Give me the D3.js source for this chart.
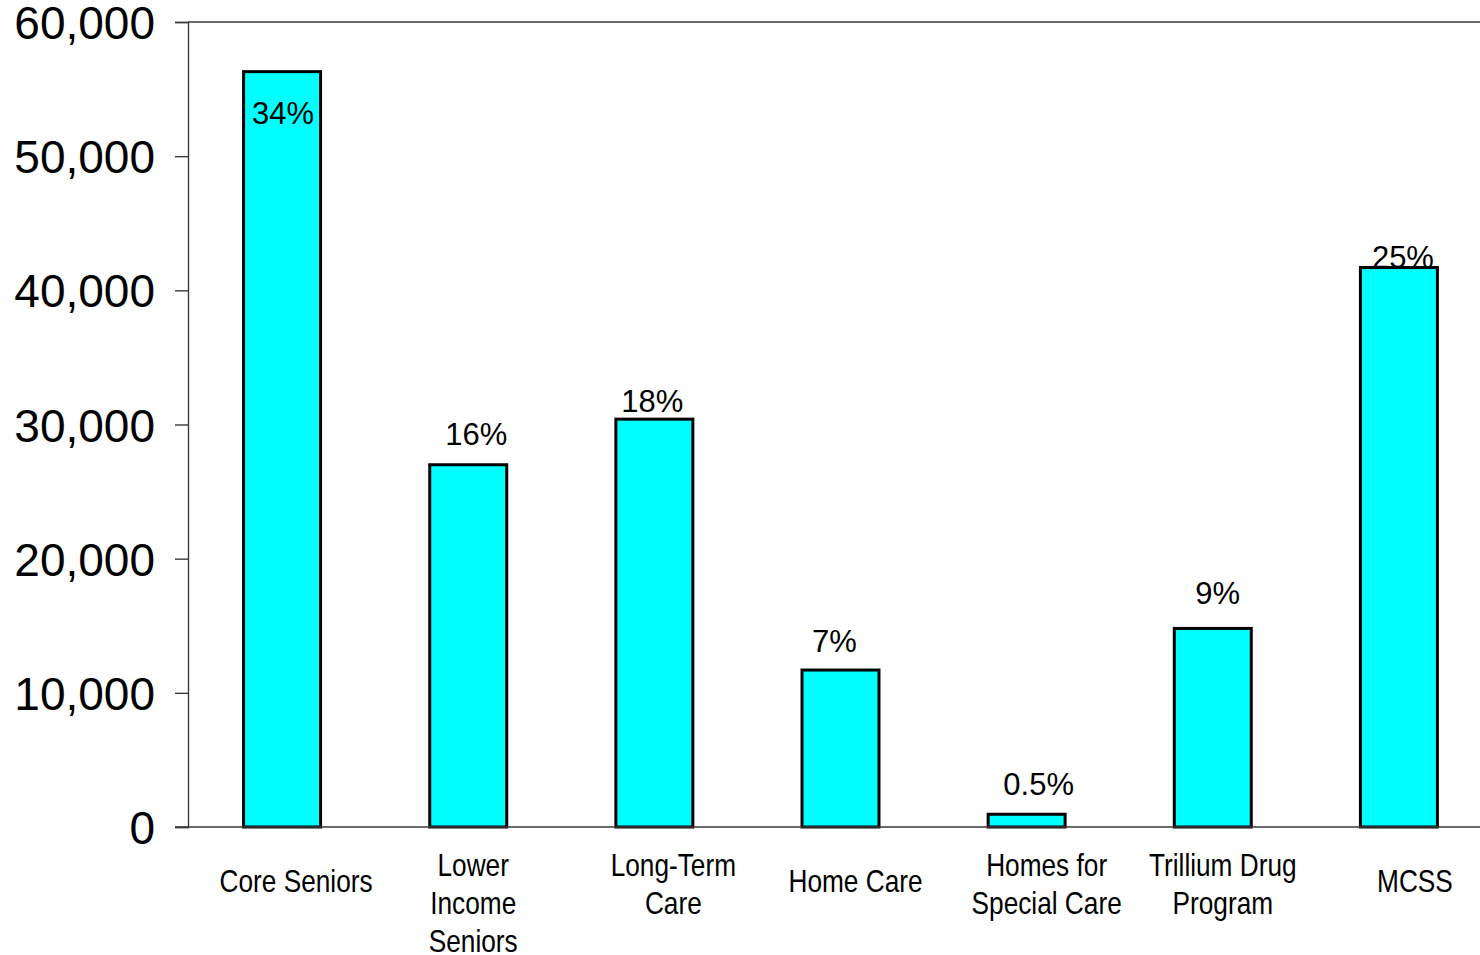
<!DOCTYPE html>
<html>
<head>
<meta charset="utf-8">
<script src="https://cdn.jsdelivr.net/npm/d3@7"></script>
<style>
  html, body { margin: 0; padding: 0; background: #ffffff; }
  svg { display: block; }
</style>
</head>
<body>
<script>
// Spending by program (bars) with each program's share printed above it
const categories = [
  ["Core Seniors"],
  ["Lower", "Income", "Seniors"],
  ["Long-Term", "Care"],
  ["Home Care"],
  ["Homes for", "Special Care"],
  ["Trillium Drug", "Program"],
  ["MCSS"]
];
const values = [56300, 27000, 30400, 11700, 950, 14800, 41700];
const shareLabels = ["34%", "16%", "18%", "7%", "0.5%", "9%", "25%"];
const yTicks = [0, 10000, 20000, 30000, 40000, 50000, 60000];

// Hand-placed nudges for the share labels (px, relative to bar top centre)
const shareDx = [1, 8, -2, -6, 12, 5, 4];
const shareDy = [52, -20, -7, -18, -19, -24, 0];
// Horizontal nudges for the category labels (px, relative to bar centre)
const catDx = [14, 5, 19, 15, 20, 10, 16];

const W = 1480, H = 955;
const plotLeft = 188, plotTop = 22, plotBottom = 827, plotRight = 1492;

const svg = d3.select("body").append("svg")
  .attr("width", W).attr("height", H);

const x = d3.scaleBand()
  .domain(d3.range(categories.length))
  .range([plotLeft + 1, plotRight])
  .paddingInner(0.5865)
  .paddingOuter(0.2933);

const y = d3.scaleLinear().domain([0, 60000]).range([plotBottom, plotTop]);

const axisColor = "#3a3a3a";

// Plot frame: top border runs across the plot width
svg.append("line")
  .attr("x1", plotLeft).attr("x2", W).attr("y1", y(60000)).attr("y2", y(60000))
  .attr("stroke", axisColor).attr("stroke-width", 1.4);

// Y axis
const yAxis = d3.axisLeft(y)
  .tickValues(yTicks)
  .tickSize(13)
  .tickPadding(20)
  .tickFormat(d3.format(","));

const gy = svg.append("g")
  .attr("transform", `translate(${plotLeft},0)`)
  .call(yAxis);
gy.select(".domain").attr("stroke", axisColor).attr("stroke-width", 1.4);
gy.selectAll(".tick line").attr("stroke", axisColor).attr("stroke-width", 1.4);
gy.selectAll(".tick text")
  .attr("font-family", "Arial, 'Liberation Sans', sans-serif")
  .attr("font-size", 46)
  .attr("fill", "#000")
  .attr("dy", "0.36em");

// Bars
svg.append("g").selectAll("rect")
  .data(values)
  .join("rect")
  .attr("x", (d, i) => x(i))
  .attr("y", d => y(d))
  .attr("width", x.bandwidth())
  .attr("height", d => y(0) - y(d))
  .attr("fill", "#00ffff")
  .attr("stroke", "#000")
  .attr("stroke-width", 3);

// Baseline drawn over the bar bottoms
svg.append("line")
  .attr("x1", plotLeft - 13).attr("x2", W).attr("y1", y(0)).attr("y2", y(0))
  .attr("stroke", axisColor).attr("stroke-width", 1.4);

// Share labels
svg.append("g").selectAll("text")
  .data(values)
  .join("text")
  .attr("x", (d, i) => x(i) + x.bandwidth() / 2 + shareDx[i])
  .attr("y", (d, i) => y(d) + shareDy[i])
  .attr("text-anchor", "middle")
  .attr("font-family", "Arial, 'Liberation Sans', sans-serif")
  .attr("font-size", 31)
  .attr("fill", "#000")
  .text((d, i) => shareLabels[i]);

// Category labels: a sans face squeezed horizontally to a narrow width
const catG = svg.append("g")
  .attr("font-family", "Arial, 'Liberation Sans', sans-serif")
  .attr("font-size", 32)
  .attr("fill", "#000")
  .attr("text-anchor", "middle");

catG.selectAll("text")
  .data(categories)
  .join("text")
  .attr("transform", (d, i) =>
    `translate(${x(i) + x.bandwidth() / 2 + catDx[i]},${d.length === 1 ? 892 : 876}) scale(0.82,1)`)
  .each(function (lines) {
    const t = d3.select(this);
    lines.forEach((ln, k) => {
      t.append("tspan")
        .attr("x", 0)
        .attr("dy", k === 0 ? 0 : 38)
        .text(ln);
    });
  });
</script>
</body>
</html>
